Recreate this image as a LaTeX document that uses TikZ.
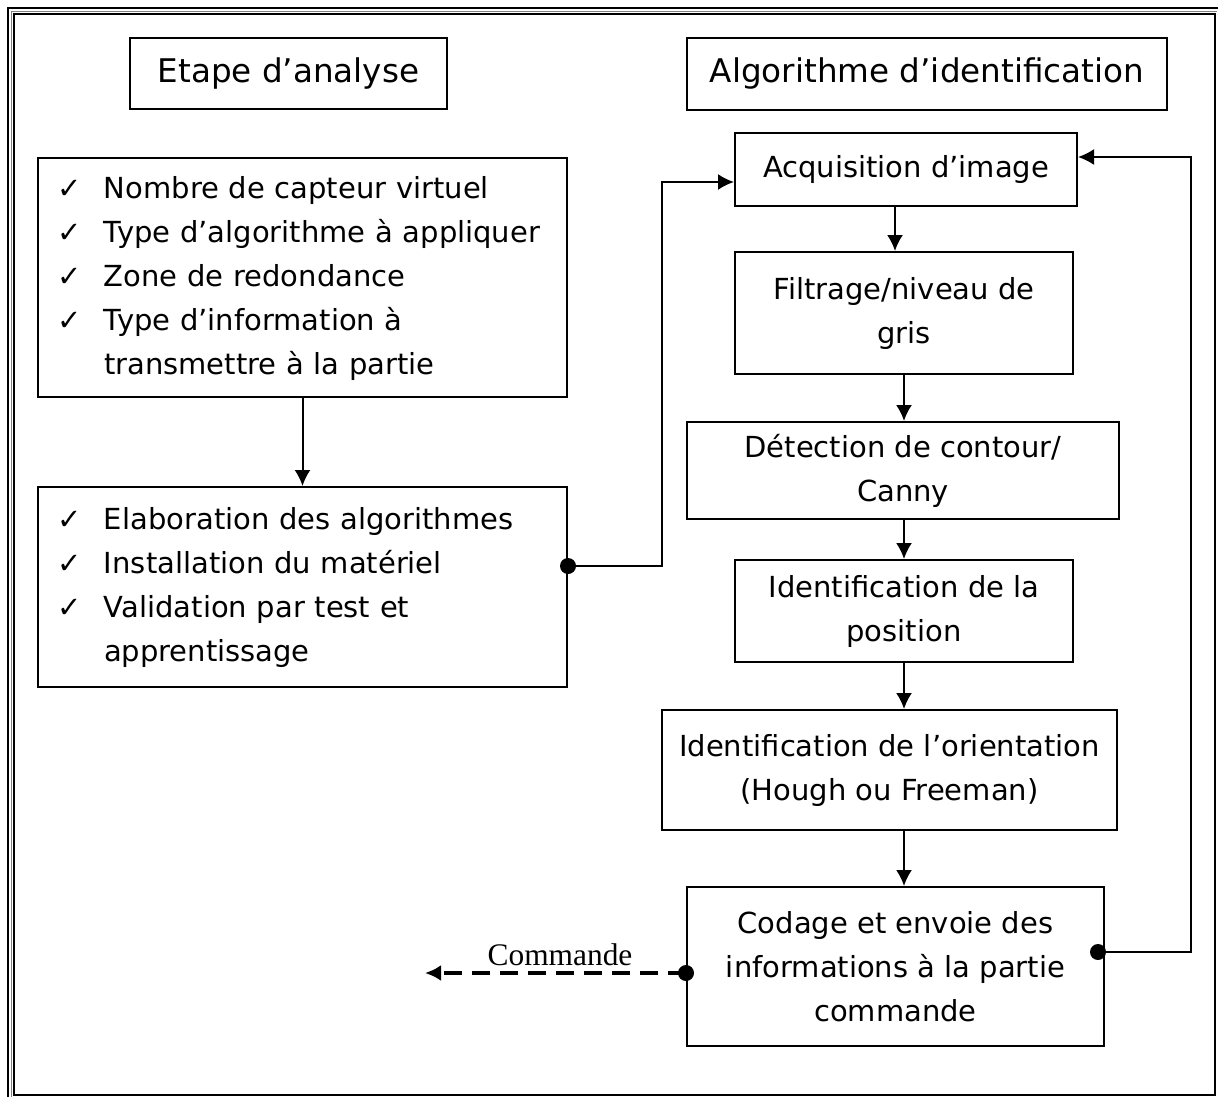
\documentclass[tikz,border=0pt]{standalone}
\usepackage{fontspec}
\setmainfont{DejaVu Sans}
\newfontfamily\cmdfont{Liberation Serif}
\usetikzlibrary{arrows.meta}
\tikzset{
  box/.style={draw, line width=1pt, inner sep=0pt, align=center,
    font=\fontsize{14.5}{22}\selectfont},
  titlebox/.style={box, font=\fontsize{16.3}{22}\selectfont},
  lbox/.style={draw, line width=1pt, inner xsep=9.5pt, inner ysep=0pt,
    text width=245.5pt, align=left, font=\fontsize{14.5}{22}\selectfont},
  arr/.style={line width=1pt, -{Latex[length=8pt,width=8pt]}},
  dot/.style={circle, fill=black, inner sep=0pt, minimum size=8pt},
}
\newcommand{\ck}{\makebox[23.5pt][l]{✓}}
\begin{document}
\begin{tikzpicture}[x=0.5pt,y=-0.5pt]
\useasboundingbox (0,0) rectangle (1220,1097);
% page border
\draw[line width=1.4pt] (14,1095) -- (14,14) -- (1215,14) -- (1215,1095) -- cycle;
\draw[line width=1.4pt] (8,1097) -- (8,8) -- (1218,8);
\draw[line width=0.4pt, gray] (11,1097) -- (11,11) -- (1217,11);

% titles
\node[titlebox, minimum width=158.5pt, minimum height=35.5pt] (t1) at (288.5,73.5) {Etape d’analyse};
\node[titlebox, minimum width=240pt, minimum height=36pt] (t2) at (927,74) {Algorithme d’identification};

% left boxes
\node[lbox, minimum height=119.5pt] (l1) at (302.5,277.5) {\noindent
\begin{tabular}{@{}l@{}l@{}}
\ck & Nombre de capteur virtuel\\
\ck & Type d’algorithme à appliquer\\
\ck & Zone de redondance\\
\ck & Type d’information à\\
 & transmettre à la partie
\end{tabular}};
\node[lbox, minimum height=100pt] (l2) at (302.5,587) {\noindent
\begin{tabular}{@{}l@{}l@{}}
\ck & Elaboration des algorithmes\\
\ck & Installation du matériel\\
\ck & Validation par test et\\
 & apprentissage
\end{tabular}};

% right flow
\node[box, minimum width=171pt, minimum height=36.5pt] (acq) at (906,169.5) {Acquisition d’image};
\node[box, minimum width=169pt, minimum height=61pt] (filt) at (904,313) {Filtrage/niveau de\\gris};
\node[box, minimum width=216pt, minimum height=48.5pt] (det) at (903,470.5) {Détection de contour/\\Canny};
\node[box, minimum width=169pt, minimum height=51pt] (pos) at (904,611) {Identification de la\\position};
\node[box, minimum width=227.5pt, minimum height=60pt] (ori) at (889.5,770) {Identification de l’orientation\\(Hough ou Freeman)};
\node[box, minimum width=208.5pt, minimum height=79.5pt] (cod) at (895.5,966.5) {Codage et envoie des\\informations à la partie\\commande};

% connectors
\draw[arr] (l1.south) -- (l2.north);
\draw[arr] ([xshift=-5.5pt]acq.south) -- ([xshift=-5.5pt]acq.south |- filt.north);
\draw[arr] (filt.south) -- (filt.south |- det.north);
\draw[arr] ([xshift=0.5pt]det.south) -- ([xshift=0.5pt]det.south |- pos.north);
\draw[arr] (pos.south) -- (pos.south |- ori.north);
\draw[arr] ([xshift=7.25pt]ori.south) -- ([xshift=7.25pt]ori.south |- cod.north);

\node[dot] (d1) at ([yshift=10.5pt]l2.east) {};
\coordinate (c1) at (662,566);
\coordinate (c2) at (662,182);
\draw[arr] (d1.center) -- (c1) -- (c2) -- ([yshift=-6.25pt]acq.west);

\node[dot] (d2) at ([xshift=-3.5pt,yshift=7.25pt]cod.east) {};
\coordinate (c3) at (1191,952);
\coordinate (c4) at (1191,157);
\draw[arr] (d2.center) -- (c3) -- (c4) -- ([yshift=6.25pt]acq.east);

\node[dot] (d3) at ([yshift=-3.25pt]cod.west) {};
\coordinate (e1) at (425,973);
\draw[line width=1.6pt, dash pattern=on 9pt off 5pt, -{Latex[length=8pt,width=8pt]}] (d3.center) -- (e1);
\node[font=\cmdfont\fontsize{15.7}{18}\selectfont, inner sep=0pt] (cmd) at (560,955) {Commande};
\end{tikzpicture}
\end{document}
